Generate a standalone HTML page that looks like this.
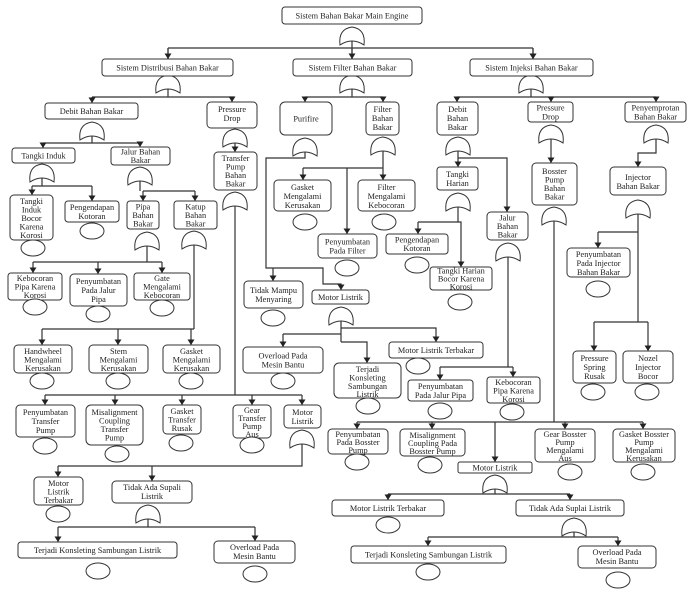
<!DOCTYPE html>
<html><head><meta charset="utf-8"><style>
html,body{margin:0;padding:0;background:#fff;}
svg{display:block}
rect{fill:#fff;stroke:#333;stroke-width:1}
ellipse{fill:#fff;stroke:#333;stroke-width:1}
.g{fill:#fff;stroke:#333;stroke-width:1}
.l{fill:none;stroke:#333;stroke-width:1.2}
text{font-family:"Liberation Serif",serif;font-size:8.3px;fill:#222;text-anchor:middle}
</style></head><body>
<svg width="699" height="592" viewBox="0 0 699 592" xmlns="http://www.w3.org/2000/svg">
<defs>
<marker id="a" markerWidth="7" markerHeight="6" refX="3.5" refY="5.5" orient="0" markerUnits="userSpaceOnUse"><path d="M0 0 L7 0 L3.5 5.5 Z" fill="#222"/></marker>
</defs>

<!-- connectors -->
<g class="l">
<path d="M352 41V48M168 48H533"/>
<path d="M168 48V59M352 48V59M533 48V59" marker-end="url(#a)"/>
<path d="M168 48V59" marker-end="url(#a)"/><path d="M352 48V59" marker-end="url(#a)"/><path d="M533 48V59" marker-end="url(#a)"/>
<path d="M168 89V97M92 97H234M352 89V97M305 97H383M531 89V97M457 97H656"/>
<path d="M92 97V103" marker-end="url(#a)"/><path d="M232 97V102" marker-end="url(#a)"/>
<path d="M305 97V102" marker-end="url(#a)"/><path d="M383 97V102" marker-end="url(#a)"/>
<path d="M457 97V102" marker-end="url(#a)"/><path d="M551 97V102" marker-end="url(#a)"/><path d="M656 97V102" marker-end="url(#a)"/>
<path d="M92 136V143M43 143H140"/>
<path d="M43 143V148" marker-end="url(#a)"/><path d="M140 143V147" marker-end="url(#a)"/>
<path d="M235 143V152" marker-end="url(#a)"/>
<path d="M305 152V158H266V268H323V284H341V290" marker-end="url(#a)"/>
<path d="M273 268V281" marker-end="url(#a)"/>
<path d="M383 151V180" marker-end="url(#a)"/><path d="M303 168H383"/>
<path d="M303 168V180" marker-end="url(#a)"/><path d="M347 168V234" marker-end="url(#a)"/>
<path d="M458 151V167" marker-end="url(#a)"/><path d="M458 158H507V212" marker-end="url(#a)"/>
<path d="M551 139V163" marker-end="url(#a)"/>
<path d="M656 139V153H638V167" marker-end="url(#a)"/>
<path d="M42 178V186M32 186H92"/>
<path d="M32 186V195" marker-end="url(#a)"/><path d="M92 186V201" marker-end="url(#a)"/>
<path d="M140 181V191M143 191H195"/>
<path d="M143 191V201" marker-end="url(#a)"/><path d="M195 191V201" marker-end="url(#a)"/>
<path d="M235 206V395M45 395H302"/>
<path d="M45 395V405" marker-end="url(#a)"/><path d="M115 395V405" marker-end="url(#a)"/><path d="M182 395V405" marker-end="url(#a)"/><path d="M252 395V405" marker-end="url(#a)"/><path d="M302 395V405" marker-end="url(#a)"/>
<path d="M458 207V222H461V267" marker-end="url(#a)"/><path d="M418 222H458"/><path d="M418 222V234" marker-end="url(#a)"/>
<path d="M554 221V422M357 422H643"/>
<path d="M357 422V429" marker-end="url(#a)"/><path d="M432 422V429" marker-end="url(#a)"/><path d="M495 422V462" marker-end="url(#a)"/><path d="M565 422V429" marker-end="url(#a)"/><path d="M643 422V429" marker-end="url(#a)"/>
<path d="M638 214V322M598 232H638M594 322H648"/>
<path d="M598 232V248" marker-end="url(#a)"/><path d="M594 322V351" marker-end="url(#a)"/><path d="M648 322V351" marker-end="url(#a)"/>
<path d="M147 246V262M33 262H162"/>
<path d="M33 262V273" marker-end="url(#a)"/><path d="M98 262V274" marker-end="url(#a)"/><path d="M162 262V273" marker-end="url(#a)"/>
<path d="M194 245V329M42 329H194"/>
<path d="M42 329V345" marker-end="url(#a)"/><path d="M118 329V345" marker-end="url(#a)"/><path d="M191 329V345" marker-end="url(#a)"/>
<path d="M508 257V367M440 367H513"/>
<path d="M440 367V380" marker-end="url(#a)"/><path d="M513 367V377" marker-end="url(#a)"/>
<path d="M341 321V342M283 334H341"/>
<path d="M341 328H436V342" marker-end="url(#a)"/><path d="M283 334V347" marker-end="url(#a)"/><path d="M341 342H367V363" marker-end="url(#a)"/>
<path d="M302 444V466H58"/>
<path d="M58 466V477" marker-end="url(#a)"/><path d="M152 466V481" marker-end="url(#a)"/>
<path d="M148 519V527M58 527H255"/>
<path d="M58 527V542" marker-end="url(#a)"/><path d="M255 527V541" marker-end="url(#a)"/>
<path d="M495 489V494M388 494H570"/>
<path d="M388 494V500" marker-end="url(#a)"/><path d="M570 494V500" marker-end="url(#a)"/>
<path d="M574 532V537M428 537H618"/>
<path d="M428 537V546" marker-end="url(#a)"/><path d="M618 537V546" marker-end="url(#a)"/>
</g>

<!-- gates -->
<g class="g">
<path d="M340 45Q338 29 352 27Q366 29 364 45Q352 37 340 45Z"/>
<path d="M156 93Q154 77 168 75Q182 77 180 93Q168 85 156 93Z"/>
<path d="M340 93Q338 77 352 75Q366 77 364 93Q352 85 340 93Z"/>
<path d="M519 93Q517 77 531 75Q545 77 543 93Q531 85 519 93Z"/>
<path d="M80 140Q78 124 92 122Q106 124 104 140Q92 132 80 140Z"/>
<path d="M223 147Q221 131 235 129Q249 131 247 147Q235 139 223 147Z"/>
<path d="M293 156Q291 140 305 138Q319 140 317 156Q305 148 293 156Z"/>
<path d="M371 155Q369 139 383 137Q397 139 395 155Q383 147 371 155Z"/>
<path d="M446 155Q444 139 458 137Q472 139 470 155Q458 147 446 155Z"/>
<path d="M539 143Q537 127 551 125Q565 127 563 143Q551 135 539 143Z"/>
<path d="M644 143Q642 127 656 125Q670 127 668 143Q656 135 644 143Z"/>
<path d="M30 182Q28 166 42 164Q56 166 54 182Q42 174 30 182Z"/>
<path d="M128 185Q126 169 140 167Q154 169 152 185Q140 177 128 185Z"/>
<path d="M223 210Q221 194 235 192Q249 194 247 210Q235 202 223 210Z"/>
<path d="M446 211Q444 195 458 193Q472 195 470 211Q458 203 446 211Z"/>
<path d="M542 225Q540 209 554 207Q568 209 566 225Q554 217 542 225Z"/>
<path d="M626 218Q624 202 638 200Q652 202 650 218Q638 210 626 218Z"/>
<path d="M135 250Q133 234 147 232Q161 234 159 250Q147 242 135 250Z"/>
<path d="M182 249Q180 233 194 231Q208 233 206 249Q194 241 182 249Z"/>
<path d="M496 261Q494 245 508 243Q522 245 520 261Q508 253 496 261Z"/>
<path d="M329 325Q327 309 341 307Q355 309 353 325Q341 317 329 325Z"/>
<path d="M290 448Q288 432 302 430Q316 432 314 448Q302 440 290 448Z"/>
<path d="M136 523Q134 507 148 505Q162 507 160 523Q148 515 136 523Z"/>
<path d="M483 493Q481 477 495 475Q509 477 507 493Q495 485 483 493Z"/>
<path d="M562 536Q560 520 574 518Q588 520 586 536Q574 528 562 536Z"/>
</g>

<!-- boxes -->
<g>
<rect x="282" y="7" width="140" height="17" rx="3"/><text x="352" y="18.5">Sistem Bahan Bakar Main Engine</text>
<rect x="102" y="59" width="131" height="17" rx="3"/><text x="167.5" y="70.5">Sistem Distribusi Bahan Bakar</text>
<rect x="293" y="59" width="119" height="17" rx="3"/><text x="352.5" y="70.5">Sistem Filter Bahan Bakar</text>
<rect x="470" y="59" width="123" height="17" rx="3"/><text x="531.5" y="70.5">Sistem Injeksi Bahan Bakar</text>
<rect x="45" y="103" width="93" height="16" rx="3"/><text x="91.5" y="114">Debit Bahan Bakar</text>
<rect x="207" y="102" width="50" height="26" rx="4"/><text x="232" y="112">Pressure</text><text x="232" y="121">Drop</text>
<rect x="280" y="102" width="52" height="33" rx="5"/><text x="306" y="121.5">Purifire</text>
<rect x="366" y="102" width="33" height="33" rx="4"/><text x="382.5" y="112">Filter</text><text x="382.5" y="121">Bahan</text><text x="382.5" y="130">Bakar</text>
<rect x="437" y="102" width="41" height="33" rx="4"/><text x="457.5" y="112">Debit</text><text x="457.5" y="121">Bahan</text><text x="457.5" y="130">Bakar</text>
<rect x="528" y="102" width="45" height="20" rx="3"/><text x="550.5" y="110.5">Pressure</text><text x="550.5" y="119.5">Drop</text>
<rect x="625" y="102" width="61" height="20" rx="3"/><text x="655.5" y="110.5">Penyemprotan</text><text x="655.5" y="119.5">Bahan Bakar</text>
<rect x="12" y="148" width="63" height="15" rx="3"/><text x="43.5" y="158.5">Tangki Induk</text>
<rect x="111" y="147" width="59" height="18" rx="3"/><text x="140.5" y="154.5">Jalur Bahan</text><text x="140.5" y="163">Bakar</text>
<rect x="214" y="152" width="43" height="38" rx="4"/><text x="235.5" y="161">Transfer</text><text x="235.5" y="169.5">Pump</text><text x="235.5" y="178">Bahan</text><text x="235.5" y="186.5">Bakar</text>
<rect x="437" y="167" width="41" height="23" rx="3"/><text x="457.5" y="177">Tangki</text><text x="457.5" y="186">Harian</text>
<rect x="532" y="163" width="45" height="42" rx="4"/><text x="554.5" y="174">Bosster</text><text x="554.5" y="182.5">Pump</text><text x="554.5" y="191">Bahan</text><text x="554.5" y="199.5">Bakar</text>
<rect x="610" y="167" width="56" height="28" rx="4"/><text x="638" y="180">Injector</text><text x="638" y="189">Bahan Bakar</text>
<rect x="10" y="195" width="43" height="45" rx="4"/><text x="31.5" y="204">Tangki</text><text x="31.5" y="212.5">Induk</text><text x="31.5" y="221">Bocor</text><text x="31.5" y="229.5">Karena</text><text x="31.5" y="238">Korosi</text>
<rect x="65" y="201" width="54" height="21" rx="3"/><text x="92" y="210">Pengendapan</text><text x="92" y="219">Kotoran</text>
<rect x="127" y="201" width="32" height="28" rx="3"/><text x="143" y="209.5">Pipa</text><text x="143" y="218">Bahan</text><text x="143" y="226.5">Bakar</text>
<rect x="174" y="201" width="43" height="28" rx="3"/><text x="195.5" y="209.5">Katup</text><text x="195.5" y="218">Bahan</text><text x="195.5" y="226.5">Bakar</text>
<rect x="274" y="180" width="57" height="31" rx="4"/><text x="302.5" y="190">Gasket</text><text x="302.5" y="199">Mengalami</text><text x="302.5" y="208">Kerusakan</text>
<rect x="358" y="180" width="57" height="31" rx="4"/><text x="386.5" y="190">Filter</text><text x="386.5" y="199">Mengalami</text><text x="386.5" y="208">Kebocoran</text>
<rect x="318" y="234" width="59" height="24" rx="4"/><text x="347.5" y="244.5">Penyumbatan</text><text x="347.5" y="253.5">Pada Filter</text>
<rect x="386" y="234" width="62" height="20" rx="3"/><text x="417" y="242.5">Pengendapan</text><text x="417" y="251">Kotoran</text>
<rect x="487" y="212" width="41" height="28" rx="4"/><text x="507.5" y="220.5">Jalur</text><text x="507.5" y="229">Bahan</text><text x="507.5" y="237.5">Bakar</text>
<rect x="430" y="267" width="62" height="23" rx="3"/><text x="461" y="273.5">Tangki Harian</text><text x="461" y="281.5">Bocor Karena</text><text x="461" y="289.5">Korosi</text>
<rect x="567" y="248" width="63" height="29" rx="4"/><text x="598.5" y="257">Penyumbatan</text><text x="598.5" y="266">Pada Injector</text><text x="598.5" y="275">Bahan Bakar</text>
<rect x="8" y="273" width="54" height="27" rx="3"/><text x="35" y="281">Kebocoran</text><text x="35" y="289.5">Pipa Karena</text><text x="35" y="298">Korosi</text>
<rect x="70" y="274" width="57" height="32" rx="4"/><text x="98.5" y="284">Penyumbatan</text><text x="98.5" y="293">Pada Jalur</text><text x="98.5" y="302">Pipa</text>
<rect x="134" y="273" width="56" height="27" rx="3"/><text x="162" y="281">Gate</text><text x="162" y="289.5">Mengalami</text><text x="162" y="298">Kebocoran</text>
<rect x="244" y="281" width="59" height="27" rx="4"/><text x="273.5" y="293">Tidak Mampu</text><text x="273.5" y="302">Menyaring</text>
<rect x="312" y="290" width="57" height="14" rx="3"/><text x="340.5" y="300">Motor Listrik</text>
<rect x="243" y="347" width="80" height="26" rx="4"/><text x="283" y="358.5">Overload Pada</text><text x="283" y="367.5">Mesin Bantu</text>
<rect x="389" y="342" width="94" height="16" rx="3"/><text x="436" y="353">Motor Listrik Terbakar</text>
<rect x="334" y="363" width="67" height="35" rx="5"/><text x="367.5" y="372">Terjadi</text><text x="367.5" y="380.5">Konsleting</text><text x="367.5" y="389">Sambungan</text><text x="367.5" y="397">Listrik</text>
<rect x="408" y="380" width="65" height="21" rx="3"/><text x="440.5" y="389">Penyumbatan</text><text x="440.5" y="398">Pada Jalur Pipa</text>
<rect x="487" y="377" width="53" height="26" rx="3"/><text x="513.5" y="385">Kebocoran</text><text x="513.5" y="393.5">Pipa Karena</text><text x="513.5" y="402">Korosi</text>
<rect x="573" y="351" width="43" height="32" rx="4"/><text x="594.5" y="361">Pressure</text><text x="594.5" y="370">Spring</text><text x="594.5" y="379">Rusak</text>
<rect x="623" y="351" width="50" height="32" rx="4"/><text x="648" y="361">Nozel</text><text x="648" y="370">Injector</text><text x="648" y="379">Bocor</text>
<rect x="14" y="345" width="58" height="28" rx="4"/><text x="43" y="354">Handwheel</text><text x="43" y="362.5">Mengalami</text><text x="43" y="371">Kerusakan</text>
<rect x="89" y="345" width="59" height="28" rx="4"/><text x="118.5" y="354">Stem</text><text x="118.5" y="362.5">Mengalami</text><text x="118.5" y="371">Kerusakan</text>
<rect x="163" y="345" width="57" height="28" rx="4"/><text x="191.5" y="354">Gasket</text><text x="191.5" y="362.5">Mengalami</text><text x="191.5" y="371">Kerusakan</text>
<rect x="16" y="405" width="59" height="32" rx="4"/><text x="45.5" y="415">Penyumbatan</text><text x="45.5" y="424">Transfer</text><text x="45.5" y="433">Pump</text>
<rect x="86" y="405" width="57" height="40" rx="5"/><text x="114.5" y="415">Misalignment</text><text x="114.5" y="423.5">Coupling</text><text x="114.5" y="432">Transfer</text><text x="114.5" y="440.5">Pump</text>
<rect x="163" y="405" width="38" height="29" rx="4"/><text x="182" y="414">Gasket</text><text x="182" y="422.5">Transfer</text><text x="182" y="431">Rusak</text>
<rect x="233" y="405" width="38" height="33" rx="4"/><text x="252" y="413">Gear</text><text x="252" y="421">Transfer</text><text x="252" y="429">Pump</text><text x="252" y="437">Aus</text>
<rect x="284" y="405" width="37" height="23" rx="4"/><text x="302.5" y="415">Motor</text><text x="302.5" y="424">Listrik</text>
<rect x="34" y="477" width="49" height="28" rx="4"/><text x="58.5" y="486">Motor</text><text x="58.5" y="494.5">Listrik</text><text x="58.5" y="503">Terbakar</text>
<rect x="112" y="481" width="80" height="22" rx="4"/><text x="152" y="490">Tidak Ada Supali</text><text x="152" y="499">Listrik</text>
<rect x="18" y="542" width="159" height="16" rx="3"/><text x="97.5" y="553">Terjadi Konsleting Sambungan Listrik</text>
<rect x="214" y="541" width="81" height="22" rx="4"/><text x="254.5" y="550">Overload Pada</text><text x="254.5" y="559">Mesin Bantu</text>
<rect x="328" y="429" width="60" height="25" rx="4"/><text x="358" y="437">Penyumbatan</text><text x="358" y="445">Pada Bosster</text><text x="358" y="453">Pump</text>
<rect x="400" y="429" width="65" height="27" rx="4"/><text x="432.5" y="438">Misalignment</text><text x="432.5" y="446">Coupling Pada</text><text x="432.5" y="454">Bosster Pump</text>
<rect x="458" y="462" width="74" height="11" rx="2"/><text x="495" y="470.5">Motor Listrik</text>
<rect x="535" y="429" width="60" height="33" rx="4"/><text x="565" y="437">Gear Bosster</text><text x="565" y="445">Pump</text><text x="565" y="453">Mengalami</text><text x="565" y="461">Aus</text>
<rect x="613" y="429" width="62" height="33" rx="4"/><text x="644" y="437">Gasket Bosster</text><text x="644" y="445">Pump</text><text x="644" y="453">Mengalami</text><text x="644" y="461">Kerusakan</text>
<rect x="332" y="500" width="112" height="16" rx="3"/><text x="388" y="511">Motor Listrik Terbakar</text>
<rect x="516" y="500" width="108" height="16" rx="3"/><text x="570" y="511">Tidak Ada Suplai Listrik</text>
<rect x="351" y="546" width="155" height="17" rx="3"/><text x="428.5" y="557.5">Terjadi Konsleting Sambungan Listrik</text>
<rect x="578" y="546" width="78" height="22" rx="4"/><text x="617" y="555">Overload Pada</text><text x="617" y="564">Mesin Bantu</text>
</g>

<!-- basic event circles -->
<g>
<ellipse cx="33" cy="248" rx="12" ry="8"/>
<ellipse cx="92" cy="231" rx="12" ry="8"/>
<ellipse cx="35" cy="307" rx="12" ry="8"/>
<ellipse cx="98" cy="314" rx="12" ry="8"/>
<ellipse cx="162" cy="308" rx="12" ry="8"/>
<ellipse cx="305" cy="222" rx="12" ry="8"/>
<ellipse cx="384" cy="222" rx="12" ry="8"/>
<ellipse cx="347" cy="268" rx="12" ry="8"/>
<ellipse cx="417" cy="265" rx="12" ry="8"/>
<ellipse cx="460" cy="302" rx="12" ry="8"/>
<ellipse cx="598" cy="289" rx="12" ry="8"/>
<ellipse cx="273" cy="318" rx="12" ry="8"/>
<ellipse cx="283" cy="381" rx="12" ry="8"/>
<ellipse cx="418" cy="366" rx="12" ry="8"/>
<ellipse cx="368" cy="406" rx="12" ry="8"/>
<ellipse cx="440" cy="411" rx="12" ry="8"/>
<ellipse cx="512" cy="412" rx="12" ry="8"/>
<ellipse cx="593" cy="392" rx="12" ry="8"/>
<ellipse cx="647" cy="392" rx="12" ry="8"/>
<ellipse cx="42" cy="381" rx="12" ry="8"/>
<ellipse cx="118" cy="381" rx="12" ry="8"/>
<ellipse cx="191" cy="381" rx="12" ry="8"/>
<ellipse cx="45" cy="446" rx="12" ry="8"/>
<ellipse cx="117" cy="454" rx="12" ry="8"/>
<ellipse cx="181" cy="443" rx="12" ry="8"/>
<ellipse cx="252" cy="445" rx="12" ry="8"/>
<ellipse cx="58" cy="514" rx="12" ry="8"/>
<ellipse cx="98" cy="571" rx="12" ry="8"/>
<ellipse cx="255" cy="574" rx="12" ry="8"/>
<ellipse cx="357" cy="462" rx="12" ry="8"/>
<ellipse cx="430" cy="465" rx="12" ry="8"/>
<ellipse cx="570" cy="472" rx="12" ry="8"/>
<ellipse cx="643" cy="472" rx="12" ry="8"/>
<ellipse cx="388" cy="525" rx="12" ry="8"/>
<ellipse cx="428" cy="572" rx="12" ry="8"/>
<ellipse cx="618" cy="580" rx="12" ry="8"/>
</g>
</svg>
</body></html>
